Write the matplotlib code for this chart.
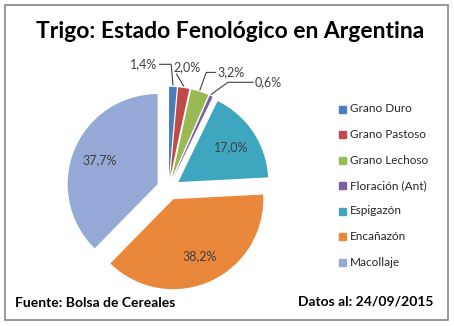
import numpy as np
import matplotlib
matplotlib.use('Agg')
import matplotlib.pyplot as plt
from matplotlib.patches import Rectangle

plt.rcParams['font.family'] = ['Lato', 'DejaVu Sans']

# Trigo: estado fenologico (%)
etapas = ['Grano Duro', 'Grano Pastoso', 'Grano Lechoso', 'Floración (Ant)',
          'Espigazón', 'Encañazón', 'Macollaje']
porcentajes = [1.4, 2.0, 3.2, 0.6, 17.0, 38.2, 37.7]
colores = ['#4A7EBB', '#BE4B48', '#98B954', '#7D60A0', '#3FA6BF', '#E9883A', '#94A9D5']

W, H = 454, 326
fig = plt.figure(figsize=(W / 100, H / 100), dpi=100)

# pie axes: center and radius in px
R = 90
half = 1.5
cx, cy = 168.5, 188.5
ax = fig.add_axes([(cx - half * R) / W, (H - cy - half * R) / H, 2 * half * R / W, 2 * half * R / H])

expl = 0.13
wedges, _ = ax.pie(porcentajes, colors=colores, startangle=90, counterclock=False,
                   explode=[expl] * len(porcentajes), radius=1.0,
                   wedgeprops=dict(linewidth=0))
# pie() resets the limits, so set them afterwards
ax.set_xlim(-half, half)
ax.set_ylim(-half, half)
ax.set_aspect('equal')
ax.axis('off')

def fmt(v):
    return ('%.1f%%' % v).replace('.', ',')

# labels inside the big slices
for w, v in zip(wedges, porcentajes):
    if v < 10:
        continue
    ang = np.deg2rad((w.theta1 + w.theta2) / 2)
    r = 0.7 + expl
    ax.text(r * np.cos(ang), r * np.sin(ang), fmt(v), ha='center', va='center',
            fontsize=9, color='#404040')

# small slices: labels outside with leader lines
pos_txt = [(-0.28, 1.38), (0.21, 1.35), (0.69, 1.29), (1.11, 1.18)]
lc = '#404040'
for i, (tx, ty) in enumerate(pos_txt):
    w = wedges[i]
    ang = np.deg2rad((w.theta1 + w.theta2) / 2)
    ox, oy = w.center
    px = ox + 1.0 * np.cos(ang)
    py = oy + 1.0 * np.sin(ang)
    ax.text(tx, ty, fmt(porcentajes[i]), ha='center', va='center', fontsize=9, color='#404040')
    if i == 0:
        ax.plot([tx + 0.18, px - 0.02, px], [ty, ty, py + 0.02], color=lc, lw=0.8)
    elif i == 1:
        ax.plot([tx - 0.12, px], [ty - 0.08, py + 0.02], color=lc, lw=0.8)
    elif i == 2:
        ax.plot([tx - 0.17, tx - 0.27, px], [ty, ty, py + 0.02], color=lc, lw=0.8)
    else:
        ax.plot([tx - 0.17, tx - 0.45, px], [ty, ty, py + 0.02], color=lc, lw=0.8)

# legend
for i, (et, c) in enumerate(zip(etapas, colores)):
    y = H - (109 + i * 25.5)
    fig.patches.append(Rectangle((339 / W, (y - 3.5) / H), 7 / W, 7 / H,
                                 transform=fig.transFigure, color=c, figure=fig))
    fig.text(350 / W, y / H, et, ha='left', va='center', fontsize=8.5, color='#262626')

# title and footer
fig.text(230 / W, (H - 32) / H, 'Trigo: Estado Fenológico en Argentina', ha='center', va='center',
         fontsize=16.5, fontweight='bold', color='#000000')
fig.text(15 / W, (H - 303) / H, 'Fuente: Bolsa de Cereales', ha='left', va='center',
         fontsize=10, fontweight='bold', color='#000000')
fig.text(433 / W, (H - 301) / H, 'Datos al: 24/09/2015', ha='right', va='center',
         fontsize=10, fontweight='bold', color='#000000')

# outer frame
fig.patches.append(Rectangle((5 / W, (H - 320) / H), 443 / W, 315 / H, transform=fig.transFigure,
                             fill=False, edgecolor='#868686', lw=1.2, figure=fig))

fig.savefig('out.png', dpi=100, facecolor='white')
